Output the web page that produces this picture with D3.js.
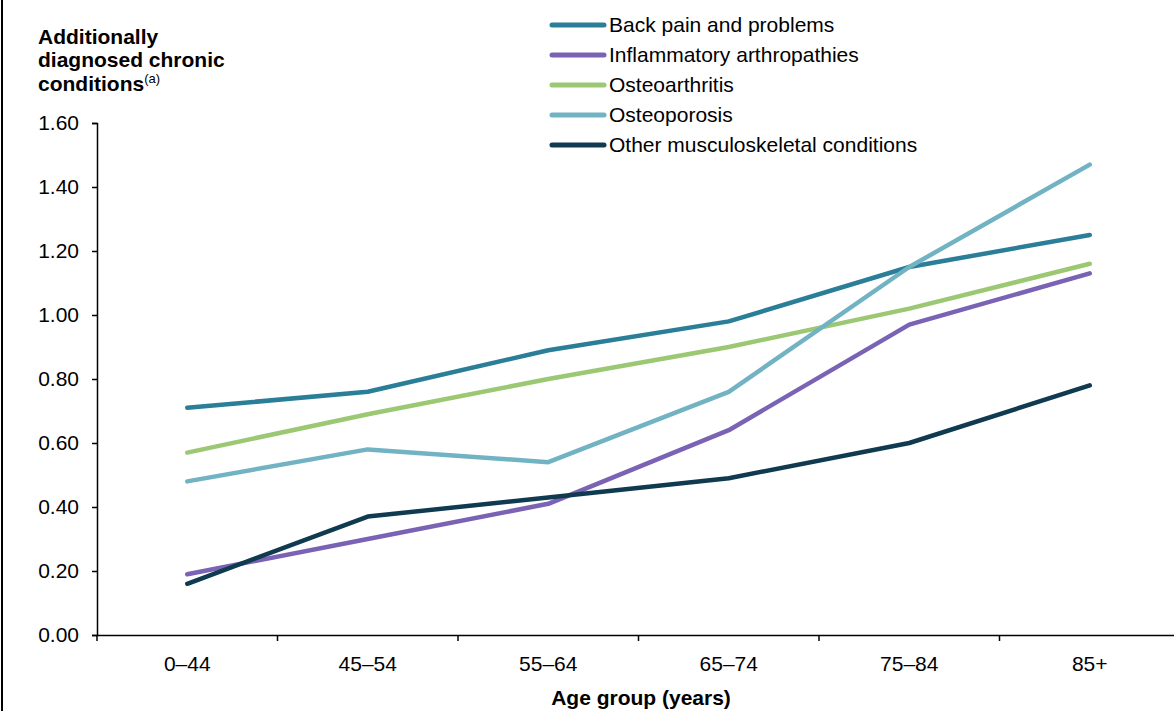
<!DOCTYPE html>
<html>
<head>
<meta charset="utf-8">
<script src="https://cdn.jsdelivr.net/npm/d3@7"></script>
<style>
  html, body { margin: 0; padding: 0; background: #fff; }
  svg { display: block; font-family: "Liberation Sans", Arial, sans-serif; }
</style>
</head>
<body>
<svg id="chart" width="1174" height="711"></svg>
<script>
const categories = ["0–44", "45–54", "55–64", "65–74", "75–84", "85+"];
const seriesNames = ["Back pain and problems", "Inflammatory arthropathies", "Osteoarthritis", "Osteoporosis", "Other musculoskeletal conditions"];
const backPain      = [0.71, 0.76, 0.89, 0.98, 1.15, 1.25];
const inflammatory  = [0.19, 0.30, 0.41, 0.64, 0.97, 1.13];
const osteoarthritis= [0.57, 0.69, 0.80, 0.90, 1.02, 1.16];
const osteoporosis  = [0.48, 0.58, 0.54, 0.76, 1.15, 1.47];
const otherMsk      = [0.16, 0.37, 0.43, 0.49, 0.60, 0.78];
const yTicks = [0, 0.2, 0.4, 0.6, 0.8, 1.0, 1.2, 1.4, 1.6];
const colors = ["#2a7e98", "#7a62b4", "#9cc874", "#72b3c3", "#0f3a4f"];

const seriesValues = [backPain, inflammatory, osteoarthritis, osteoporosis, otherMsk];
const series = seriesNames.map((name, i) => ({ name, values: seriesValues[i], color: colors[i] }));

const FONT = "Liberation Sans, Arial, sans-serif";
const svg = d3.select("#chart");

// left frame border
svg.append("line").attr("x1", 2).attr("x2", 2).attr("y1", 0).attr("y2", 711)
  .attr("stroke", "#000").attr("stroke-width", 2);

const x = d3.scaleBand().domain(categories).range([97, 1180]);
const y = d3.scaleLinear().domain([0, 1.6]).range([635, 123]);

// y axis
const yAxis = svg.append("g").attr("transform", "translate(97,0)")
  .call(d3.axisLeft(y).tickValues(yTicks).tickFormat(d3.format(".2f")).tickSizeOuter(0).tickSize(5).tickPadding(13));
yAxis.select(".domain").attr("stroke", "#000").attr("stroke-width", 1.5);
yAxis.selectAll(".tick line").attr("stroke", "#000").attr("stroke-width", 1.5);
yAxis.selectAll(".tick text").attr("font-size", 21).attr("fill", "#000").attr("font-family", FONT);

// x axis
const xAxis = svg.append("g").attr("transform", "translate(0,635)")
  .call(d3.axisBottom(x).tickSizeOuter(0).tickSize(0).tickPadding(21));
xAxis.select(".domain").attr("stroke", "#000").attr("stroke-width", 1.5);
xAxis.selectAll(".tick text").attr("font-size", 21).attr("fill", "#000").attr("font-family", FONT);
// boundary ticks between categories
const boundaries = categories.map(c => x(c)).concat([x.range()[1]]);
svg.append("g").selectAll("line").data(boundaries).join("line")
  .attr("x1", d => d).attr("x2", d => d).attr("y1", 635).attr("y2", 641)
  .attr("stroke", "#000").attr("stroke-width", 1.5);

// lines
const line = d3.line()
  .x((d, i) => x(categories[i]) + x.bandwidth() / 2)
  .y(d => y(d));
svg.append("g").selectAll("path").data(series).join("path")
  .attr("d", d => line(d.values))
  .attr("fill", "none")
  .attr("stroke", d => d.color)
  .attr("stroke-width", 4.5)
  .attr("stroke-linejoin", "round")
  .attr("stroke-linecap", "round");

// y title
const yt = svg.append("text").attr("x", 38).attr("font-weight", "bold").attr("font-size", 21).attr("fill", "#000");
yt.append("tspan").attr("x", 38).attr("y", 44).text("Additionally");
yt.append("tspan").attr("x", 38).attr("y", 67).text("diagnosed chronic");
yt.append("tspan").attr("x", 38).attr("y", 91).text("conditions");
yt.append("tspan").attr("font-weight", "normal").attr("font-size", 13).attr("dy", -8).text("(a)");

// x title
svg.append("text").attr("x", 641).attr("y", 705).attr("text-anchor", "middle")
  .attr("font-weight", "bold").attr("font-size", 21).attr("fill", "#000").text("Age group (years)");

// legend
const lg = svg.append("g").selectAll("g").data(series).join("g")
  .attr("transform", (d, i) => `translate(0,${25 + i * 30})`);
lg.append("line").attr("x1", 552).attr("x2", 604).attr("y1", 0).attr("y2", 0)
  .attr("stroke", d => d.color).attr("stroke-width", 5).attr("stroke-linecap", "round");
lg.append("text").attr("x", 609).attr("y", 0).attr("dy", "0.35em")
  .attr("font-size", 21).attr("fill", "#000").text(d => d.name);
</script>
</body>
</html>
